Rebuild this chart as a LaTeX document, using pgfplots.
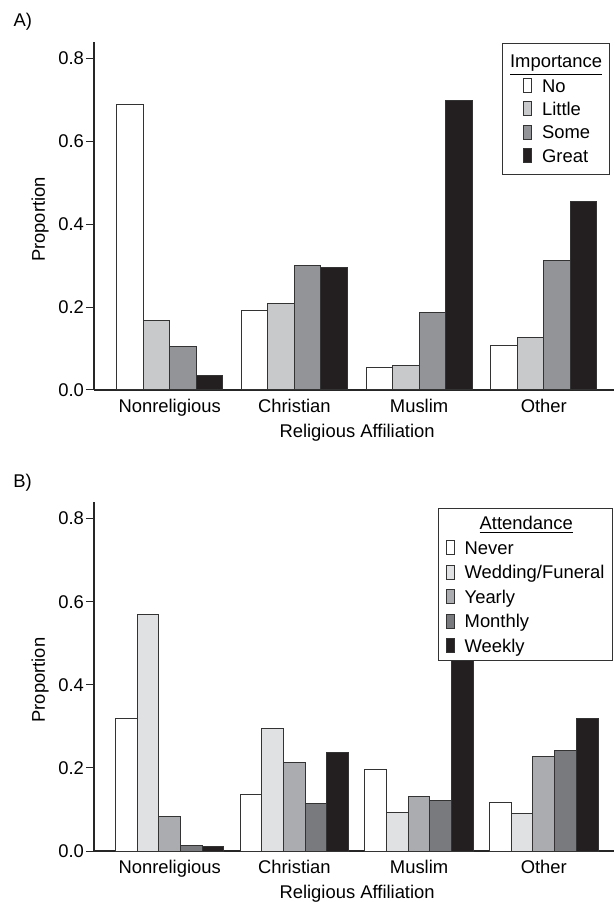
\documentclass[border=0pt]{standalone}
\usepackage{pgfplots}
\usepackage{pgfplotstable}
\pgfplotsset{compat=1.18}
\usepackage{fontspec}
\setmainfont{Liberation Sans}
\definecolor{cLittle}{HTML}{C8C9CB}
\definecolor{cSome}{HTML}{929497}
\definecolor{cGreat}{HTML}{231F20}
\definecolor{cWF}{HTML}{E0E1E3}
\definecolor{cYear}{HTML}{ABACAF}
\definecolor{cMonth}{HTML}{797A7D}
\definecolor{cEdge}{HTML}{333333}
\pgfplotstableread{
cat No Little Some Great
0 0.690 0.168 0.105 0.034
1 0.193 0.209 0.300 0.296
2 0.055 0.058 0.186 0.700
3 0.107 0.127 0.312 0.455
}\dataA
\pgfplotstableread{
cat Never WF Yearly Monthly Weekly
0 0.319 0.569 0.084 0.013 0.010
1 0.135 0.295 0.213 0.115 0.236
2 0.195 0.093 0.132 0.121 0.550
3 0.117 0.091 0.228 0.241 0.320
}\dataB
\pgfplotsset{
  legA/.style={legend image code/.code={\path[draw=none,fill=none] (0pt,0pt) -- (10.5pt,0pt); \draw[##1,overlay] (6.5pt,-3.5pt) rectangle (10.5pt,3.5pt);}},
  legB/.style={legend image code/.code={\path[draw=none,fill=none] (0pt,0pt) -- (4pt,0pt); \draw[##1,overlay] (0pt,-3.5pt) rectangle (4pt,3.5pt);}},
  common/.style={
    scale only axis,
    width=260pt,
    xmin=-0.607, xmax=3.563,
    ymin=0, ymax=0.84,
    axis x line*=bottom, axis y line*=left,
    axis line style={line width=0.6pt, black!85},
    xtick={0,1,2,3},
    xticklabels={Nonreligious,Christian,Muslim,Other},
    x tick style={draw=none},
    ytick={0,0.2,0.4,0.6,0.8},
    y tick style={line width=0.5pt, black!85},
    tick align=outside,
    major tick length=4pt,
    yticklabel style={xshift=2.5pt, /pgf/number format/.cd, fixed, fixed zerofill, precision=1, assume math mode=true},
    xticklabel style={yshift=3pt},
    ylabel={Proportion},
    ylabel style={at={(axis description cs:-0.1038,0.49)}, anchor=center},
    xlabel={Religious Affiliation},
    xlabel style={at={(axis description cs:0.506,0)}, anchor=center, yshift=-21.5pt},
    clip=false,
    ybar=0pt,
    every axis plot/.append style={draw=cEdge, line width=0.5pt},
    legend cell align=left,
  },
}
\begin{document}
\begin{tikzpicture}[font=\fontsize{9.2pt}{11pt}\selectfont]
\useasboundingbox (0,0) rectangle (307.5pt,451pt);
% Panel A
\begin{axis}[common,
  at={(47pt,256pt)}, anchor=south west,
  height=174pt,
  bar width=0.2125,
  legend style={at={(rel axis cs:0.992,0.997)}, anchor=north east,
    draw=cEdge, line width=0.5pt, fill=white,
    inner xsep=3.6pt, inner ysep=6pt,
    column sep=5.5pt, row sep=5.07pt,
    cells={anchor=west},
    nodes={inner sep=0pt, text height=6.6pt, text depth=0pt},
    font=\fontsize{9.2pt}{11pt}\selectfont},
]
\addlegendimage{empty legend}
\addlegendentry{\hspace*{-16pt}\raisebox{0.7pt}{\underline{Importance}}}
\addplot[legA, fill=white, bar shift=-0.31875] table[x=cat, y=No] {\dataA};
\addlegendentry{No}
\addplot[legA, fill=cLittle, bar shift=-0.10625] table[x=cat, y=Little] {\dataA};
\addlegendentry{Little}
\addplot[legA, fill=cSome, bar shift=0.10625] table[x=cat, y=Some] {\dataA};
\addlegendentry{Some}
\addplot[legA, fill=cGreat, bar shift=0.31875] table[x=cat, y=Great] {\dataA};
\addlegendentry{Great}
\node[anchor=west, inner sep=0pt] at (axis description cs:-0.1555,1.058) {A)};
\end{axis}
% Panel B
\begin{axis}[common,
  at={(47pt,25.5pt)}, anchor=south west,
  height=174.5pt,
  bar width=0.174,
  legend style={at={(rel axis cs:0.998,0.983)}, anchor=north east,
    draw=cEdge, line width=0.5pt, fill=white,
    inner xsep=4pt, inner ysep=4.1pt,
    column sep=5pt, row sep=5.65pt,
    cells={anchor=west},
    nodes={inner sep=0pt, text height=6.6pt, text depth=0pt},
    font=\fontsize{9.2pt}{11pt}\selectfont},
]
\addlegendimage{empty legend}
\addlegendentry{\hspace*{7.5pt}\underline{Attendance}}
\addplot[legB, fill=white, bar shift=-0.348] table[x=cat, y=Never] {\dataB};
\addlegendentry{Never}
\addplot[legB, fill=cWF, bar shift=-0.174] table[x=cat, y=WF] {\dataB};
\addlegendentry{Wedding/Funeral}
\addplot[legB, fill=cYear, bar shift=0] table[x=cat, y=Yearly] {\dataB};
\addlegendentry{Yearly}
\addplot[legB, fill=cMonth, bar shift=0.174] table[x=cat, y=Monthly] {\dataB};
\addlegendentry{Monthly}
\addplot[legB, fill=cGreat, bar shift=0.348] table[x=cat, y=Weekly] {\dataB};
\addlegendentry{Weekly}
\node[anchor=west, inner sep=0pt] at (axis description cs:-0.156,1.054) {B)};
\end{axis}
\end{tikzpicture}
\end{document}
